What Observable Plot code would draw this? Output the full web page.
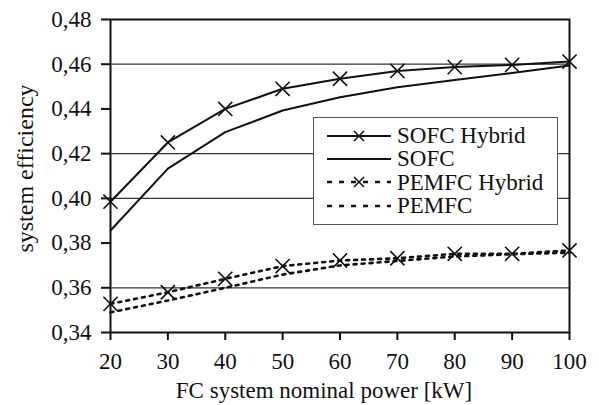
<!DOCTYPE html>
<html>
<head>
<meta charset="utf-8">
<script src="https://cdn.jsdelivr.net/npm/d3@7"></script>
<script src="https://cdn.jsdelivr.net/npm/@observablehq/plot@0.6"></script>
<style>
  html, body { margin: 0; padding: 0; background: white; }
  #wrap { position: relative; width: 599px; height: 405px; }
  #wrap svg text { font-family: 'Liberation Serif', 'Times New Roman', serif; }
  #legend {
    position: absolute; left: 313px; top: 117px; width: 245px; height: 108px;
    border: 1.5px solid #555; background: white; box-sizing: border-box;
    font-family: 'Liberation Serif', 'Times New Roman', serif; font-size: 23px; color: #111;
    padding-top: 6px; line-height: 1;
  }
  #legend .row { display: flex; align-items: center; height: 23.3px; }
  #legend svg { margin-left: 13px; margin-right: 6px; flex: none; }
</style>
</head>
<body>
<div id="wrap"></div>
<script>
// FC nominal power (kW)
const power = [20, 30, 40, 50, 60, 70, 80, 90, 100];
// System efficiency per configuration
const sofcHybrid  = [0.3985, 0.425, 0.440, 0.449, 0.4535, 0.457, 0.4587, 0.4597, 0.4612];
const sofc        = [0.3856, 0.4133, 0.4296, 0.4393, 0.4452, 0.4497, 0.4529, 0.4561, 0.4594];
const pemfcHybrid = [0.3528, 0.358, 0.364, 0.3697, 0.3722, 0.3732, 0.3752, 0.3752, 0.3767];
const pemfc       = [0.349, 0.3543, 0.360, 0.3659, 0.3700, 0.3720, 0.3740, 0.3750, 0.3757];

const seriesNames = ["SOFC Hybrid", "SOFC", "PEMFC Hybrid", "PEMFC"];
const seriesValues = [sofcHybrid, sofc, pemfcHybrid, pemfc];
const seriesMarker = [true, false, true, false];
const seriesDash = [null, null, "3,5", "3,5"];

const xTicks = [20, 30, 40, 50, 60, 70, 80, 90, 100];
const yTicks = [0.34, 0.36, 0.38, 0.40, 0.42, 0.44, 0.46, 0.48];
const gridLines = [0.36, 0.40, 0.42, 0.46];

const xLabel = "FC system nominal power [kW]";
const yLabel = "system efficiency";

const rows = seriesNames.flatMap((name, i) =>
  power.map((p, j) => ({series: name, power: p, eff: seriesValues[i][j], marker: seriesMarker[i]}))
);

const lineMarks = seriesNames.map((name, i) =>
  Plot.line(rows.filter(d => d.series === name), {
    x: "power", y: "eff", stroke: "#111", strokeWidth: seriesDash[i] ? 2.6 : 2,
    strokeDasharray: seriesDash[i] || undefined
  })
);

const fmt = v => v.toFixed(2).replace(".", ",");

const chart = Plot.plot({
  width: 599,
  height: 405,
  marginLeft: 110,
  marginRight: 30,
  marginTop: 19,
  marginBottom: 73,
  style: {fontFamily: "'Liberation Serif', 'Times New Roman', serif", fontSize: "23px", color: "#111", background: "white"},
  x: {domain: [20, 100]},
  y: {domain: [0.34, 0.48]},
  marks: [
    Plot.ruleY(gridLines, {stroke: "#333", strokeWidth: 1.3}),
    ...lineMarks,
    Plot.dot(rows.filter(d => d.marker), {x: "power", y: "eff", symbol: "times", r: 6.5, stroke: "#111", strokeWidth: 1.6}),
    Plot.frame({stroke: "#111", strokeWidth: 2}),
    Plot.axisX({ticks: xTicks, tickSize: 8, tickPadding: 12, strokeWidth: 2, label: null, tickFormat: d => String(d), fontSize: 23}),
    Plot.axisY({ticks: yTicks, tickSize: 9, tickPadding: 10, strokeWidth: 2, label: null, tickFormat: fmt, fontSize: 23}),
    Plot.text([xLabel], {frameAnchor: "bottom", textAnchor: "middle", lineAnchor: "middle", text: d => d, dx: -16, dy: 58, fontSize: 23}),
    Plot.text([yLabel], {frameAnchor: "left", textAnchor: "middle", lineAnchor: "middle", text: d => d, rotate: -90, dx: -85, dy: -7.5, fontSize: 24})
  ]
});

const wrap = document.getElementById("wrap");
wrap.appendChild(chart);

// Legend box
const legend = document.createElement("div");
legend.id = "legend";
seriesNames.forEach((name, i) => {
  const row = document.createElement("div");
  row.className = "row";
  const sw = d3.create("svg").attr("width", 64).attr("height", 14);
  sw.append("line").attr("x1", 0).attr("x2", 64).attr("y1", 7).attr("y2", 7)
    .attr("stroke", "#111").attr("stroke-width", seriesDash[i] ? 2.4 : 2)
    .attr("stroke-dasharray", seriesDash[i] ? "5,7" : null);
  if (seriesMarker[i]) {
    const c = 32, r = 5;
    sw.append("path").attr("d", `M${c - r},${7 - r}L${c + r},${7 + r}M${c - r},${7 + r}L${c + r},${7 - r}`)
      .attr("stroke", "#111").attr("stroke-width", 1.5).attr("fill", "none");
  }
  row.appendChild(sw.node());
  const label = document.createElement("span");
  label.textContent = name;
  row.appendChild(label);
  legend.appendChild(row);
});
wrap.appendChild(legend);
</script>
</body>
</html>
